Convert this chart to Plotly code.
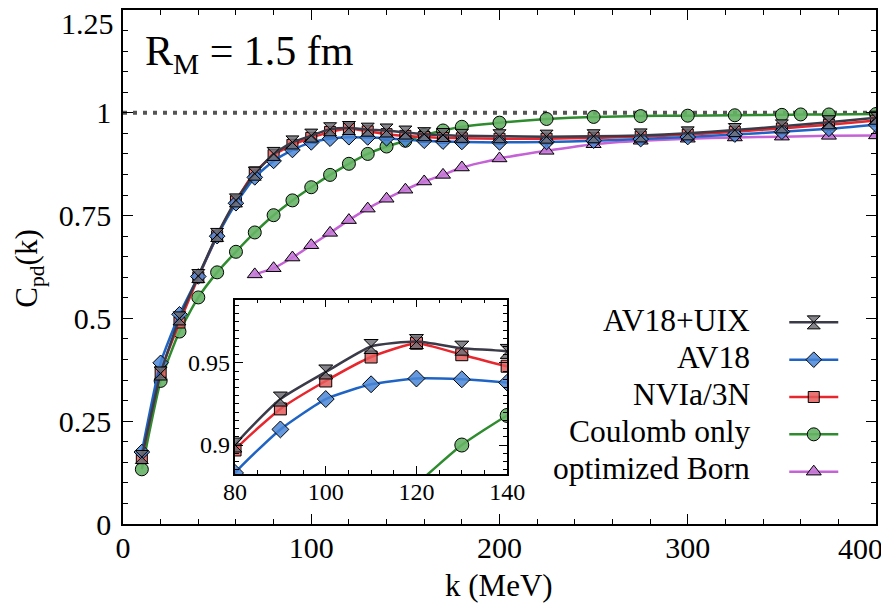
import plotly.graph_objects as go

# ---------------- data ----------------
k_main = [10, 20, 30, 40, 50, 60, 70, 80, 90, 100, 110, 120, 130, 140, 150, 160, 170, 180,
          200, 225, 250, 275, 300, 325, 350, 375, 400]
c_av18uix = [0.163, 0.366, 0.500, 0.603, 0.703, 0.787, 0.852, 0.900, 0.928, 0.9445, 0.960, 0.963,
             0.959, 0.957, 0.952, 0.948, 0.946, 0.944, 0.943, 0.942, 0.943, 0.945, 0.950, 0.958,
             0.967, 0.977, 0.988]
c_av18 = [0.175, 0.392, 0.510, 0.602, 0.700, 0.780, 0.843, 0.883, 0.9095, 0.928, 0.937, 0.9405,
          0.940, 0.938, 0.935, 0.932, 0.930, 0.929, 0.928, 0.929, 0.932, 0.936, 0.941, 0.947,
          0.954, 0.961, 0.971]
c_nvia = [0.160, 0.370, 0.490, 0.600, 0.700, 0.785, 0.855, 0.897, 0.922, 0.939, 0.9536, 0.962,
          0.955, 0.948, 0.944, 0.941, 0.939, 0.938, 0.937, 0.937, 0.939, 0.942, 0.947, 0.954,
          0.962, 0.971, 0.981]
k_coul = [10, 20, 30, 40, 50, 60, 70, 80, 90, 100, 110, 120, 130, 140, 150, 160, 170, 180,
          200, 225, 250, 275, 300, 325, 350, 360, 375, 400]
c_coul = [0.133, 0.348, 0.468, 0.551, 0.612, 0.662, 0.709, 0.751, 0.787, 0.819, 0.849, 0.876,
          0.900, 0.918, 0.932, 0.946, 0.957, 0.966, 0.976, 0.985, 0.990, 0.992, 0.993, 0.994,
          0.995, 0.996, 0.996, 0.997]
k_born = [70, 80, 90, 100, 110, 120, 130, 140, 150, 160, 170, 180, 200, 225, 250, 275, 300,
          325, 350, 375, 400]
c_born = [0.607, 0.622, 0.648, 0.678, 0.708, 0.739, 0.767, 0.791, 0.813, 0.833, 0.849, 0.867,
          0.889, 0.9075, 0.9235, 0.932, 0.937, 0.940, 0.942, 0.944, 0.945]

labels = ["AV18+UIX", "AV18", "NVIa/3N", "Coulomb only", "optimized Born"]
x_ticks = [0, 100, 200, 300, 400]
y_ticks = [0, 0.25, 0.5, 0.75, 1, 1.25]
inset_x_ticks = [80, 100, 120, 140]
inset_y_ticks = [0.9, 0.95]
inset_y_text = ["0.9", "0.95"]

# ---------------- styles ----------------
FONT = "Liberation Serif"
styles = {
    "AV18+UIX": dict(line="#3a3a48", fill="rgba(110,110,118,0.85)", symbol="hourglass", size=13),
    "AV18": dict(line="#1f64c4", fill="rgba(74,134,214,0.85)", symbol="diamond", size=12),
    "NVIa/3N": dict(line="#e8262d", fill="rgba(228,92,92,0.85)", symbol="square", size=11),
    "Coulomb only": dict(line="#2e8b2e", fill="rgba(102,180,102,0.9)", symbol="circle", size=13),
    "optimized Born": dict(line="#c462d6", fill="rgba(196,120,214,0.9)", symbol="triangle-up", size=13),
}
series = {
    "AV18+UIX": (k_main, c_av18uix),
    "AV18": (k_main, c_av18),
    "NVIa/3N": (k_main, c_nvia),
    "Coulomb only": (k_coul, c_coul),
    "optimized Born": (k_born, c_born),
}

fig = go.Figure()

# main traces (reverse order so AV18+UIX is drawn on top)
for name in reversed(labels):
    xs, ys = series[name]
    st = styles[name]
    fig.add_trace(go.Scatter(
        x=xs, y=ys, mode="lines+markers", name="\u00a0", legendrank=labels.index(name) + 1,
        line=dict(color=st["line"], width=2.5, shape="spline", smoothing=0.5),
        marker=dict(symbol=st["symbol"], size=st["size"], color=st["fill"],
                    line=dict(color="black", width=1)),
        xaxis="x", yaxis="y", showlegend=True,
    ))

# inset traces
for name in reversed(labels):
    xs, ys = series[name]
    st = styles[name]
    fig.add_trace(go.Scatter(
        x=xs, y=ys, mode="lines+markers",
        line=dict(color=st["line"], width=2.5, shape="spline", smoothing=0.5),
        marker=dict(symbol=st["symbol"], size=st["size"] + 1, color=st["fill"],
                    line=dict(color="black", width=1)),
        xaxis="x2", yaxis="y2", showlegend=False,
    ))

# page has an 8px body margin: target screen pixel p -> figure pixel p - OFF
OFF = 8
W, H = 889, 606
left_s, right_s, top_s, bot_s = 123, 875.7, 8, 524.3
L = left_s - OFF
R = W - (right_s - OFF)
T = top_s - OFF
B = H - (bot_s - OFF)
pw, ph = W - L - R, H - T - B


def px_x(p):
    return (p - OFF - L) / pw


def px_y(p):
    return (H - B - (p - OFF)) / ph


axis_common = dict(showline=True, linecolor="black", linewidth=1.5, mirror="ticks",
                   ticks="inside", tickcolor="black", tickwidth=1.2, showgrid=False,
                   zeroline=False)

fig.update_layout(
    width=W, height=H, autosize=False,
    margin=dict(l=L, r=R, t=T, b=B, pad=0),
    paper_bgcolor="white", plot_bgcolor="white",
    font=dict(family=FONT, color="black"),
    xaxis=dict(range=[0, 400], tickvals=x_ticks[:-1],
               ticklen=10, tickfont=dict(size=30), ticklabelstandoff=-4,
               minor=dict(dtick=20, tick0=0, ticks="inside", ticklen=5, tickcolor="black",
                          tickwidth=1.2, showgrid=False),
               **axis_common),
    yaxis=dict(range=[0, 1.25], tickvals=y_ticks[:-1],
               ticktext=["0", "0.25", "0.5", "0.75", "1"],
               ticklen=10, tickfont=dict(size=30), ticklabelstandoff=4,
               minor=dict(dtick=0.05, tick0=0, ticks="inside", ticklen=5, tickcolor="black",
                          tickwidth=1.2, showgrid=False),
               **axis_common),
    xaxis2=dict(domain=[px_x(235), px_x(507)], anchor="y2", range=[80, 140],
                tickvals=inset_x_ticks, ticklen=8, tickfont=dict(size=24), ticklabelstandoff=-4,
                minor=dict(dtick=5, tick0=80, ticks="inside", ticklen=4, tickcolor="black",
                           tickwidth=1.1, showgrid=False),
                **axis_common),
    yaxis2=dict(domain=[px_y(474), px_y(299)], anchor="x2", range=[0.8824, 0.9885],
                tickvals=inset_y_ticks, showticklabels=False, ticklen=8,
                minor=dict(dtick=0.005, tick0=0.9, ticks="inside", ticklen=4, tickcolor="black",
                           tickwidth=1.1, showgrid=False),
                **axis_common),
    legend=dict(x=px_x(784), y=px_y(298), xanchor="left", yanchor="top",
                traceorder="normal", bgcolor="rgba(0,0,0,0)", borderwidth=0,
                font=dict(size=26.4), itemwidth=49),
    showlegend=True,
)

# reference line at C = 1
fig.add_shape(type="line", xref="x", yref="y", x0=0, x1=400, y0=1, y1=1,
              line=dict(color="#555555", width=4, dash="4px,6px"), layer="below")

# edge tick labels (shifted inward like the reference)
fig.add_annotation(text=str(x_ticks[-1]), xref="x", yref="paper", x=400, y=0,
                   xanchor="right", yanchor="top", xshift=9, yshift=-6,
                   showarrow=False, font=dict(size=30))
fig.add_annotation(text=str(y_ticks[-1]), xref="paper", yref="y", x=0, y=1.25,
                   xanchor="right", yanchor="top", xshift=-7, yshift=5,
                   showarrow=False, font=dict(size=30))

# inset y tick labels
for v, t in zip(inset_y_ticks, inset_y_text):
    fig.add_annotation(text=t, xref="x2 domain", yref="y2", x=0, y=v,
                       xanchor="right", yanchor="middle", xshift=-3,
                       showarrow=False, font=dict(size=24))

# axis titles
fig.add_annotation(text="k (MeV)", xref="paper", yref="paper", x=px_x(499), y=px_y(586),
                   xanchor="center", yanchor="middle", showarrow=False, font=dict(size=31))
fig.add_annotation(text="C<sub>pd</sub>(k)", xref="paper", yref="paper", x=px_x(29),
                   y=px_y(267), xanchor="center", yanchor="middle", textangle=-90,
                   showarrow=False, font=dict(size=31))

# panel label
fig.add_annotation(text="R<sub>M</sub> = 1.5 fm", xref="paper", yref="paper", x=px_x(143),
                   y=px_y(52), xanchor="left", yanchor="middle", showarrow=False,
                   font=dict(size=42))

# legend texts (right-aligned, left of the legend symbols)
legend_rows = [320, 356.7, 394.3, 431.7, 469]
for name, yp in zip(labels, legend_rows):
    fig.add_annotation(text=name, xref="paper", yref="paper", x=px_x(752), y=px_y(yp),
                       xanchor="right", yanchor="middle", showarrow=False,
                       font=dict(size=31.5))

fig.write_html("out.html")
